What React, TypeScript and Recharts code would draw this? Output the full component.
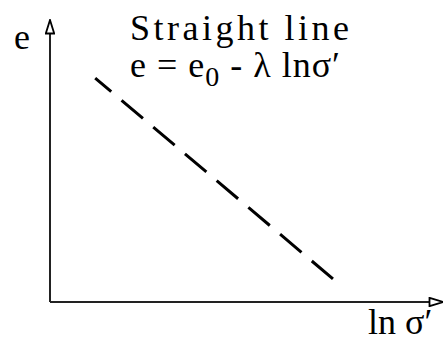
import React from 'react';
import { LineChart, Line, XAxis, YAxis, Customized } from 'recharts';

// ln(sigma') on x, void ratio e on y — both shown as bare arrowed axes
const lnStressDomain = [0, 10];
const voidRatioDomain = [0, 10];
const lnStress = [1.15, 7.2];
const voidRatio = [7.94, 0.82];

const titleText = 'Straight line';
const xAxisName = 'ln σ′';
const yAxisName = 'e';

const serif = '"Liberation Serif", "Times New Roman", serif';
const ink = '#000';

const data = lnStress.map((x, i) => ({ x, e: voidRatio[i] }));

const Labels = () => (
    <g fontFamily={serif} fill={ink} fontSize={36}>
        <text x={14} y={49}>{yAxisName}</text>
        <text x={130} y={40} letterSpacing={3.5}>{titleText}</text>
        <text x={130} y={77} letterSpacing={1}>
            e = e<tspan fontSize={28} dy={9}>0</tspan><tspan dy={-9}> - λ lnσ′</tspan>
        </text>
        <text x={368} y={334}>{xAxisName}</text>
    </g>
);

export default function App() {
    return (
        <div style={{ position: 'absolute', left: 0, top: 0, width: 443, height: 342, background: '#fff' }}>
            <svg width={0} height={0} style={{ position: 'absolute' }}>
                <defs>
                    <marker id="openArrow" viewBox="0 0 16 10" refX={15} refY={5} markerWidth={16} markerHeight={10}
                        markerUnits="userSpaceOnUse" orient="auto-start-reverse">
                        <path d="M1.5,0.8 L15,5 L1.5,9.2 Z" fill="#fff" stroke={ink} strokeWidth={1.8} />
                    </marker>
                </defs>
            </svg>
            <LineChart width={443} height={342} data={data} margin={{ top: 20, right: 0, bottom: 39, left: 49 }}>
                <XAxis type="number" dataKey="x" domain={lnStressDomain} height={1} tick={false} tickLine={false}
                    axisLine={{ stroke: '#222', strokeWidth: 2, markerEnd: 'url(#openArrow)' }} />
                <YAxis type="number" dataKey="e" domain={voidRatioDomain} width={1} tick={false} tickLine={false}
                    axisLine={{ stroke: '#222', strokeWidth: 2, markerStart: 'url(#openArrow)' }} />
                <Line type="linear" dataKey="e" stroke={ink} strokeWidth={3} strokeDasharray="28 13.5" strokeDashoffset={7}
                    dot={false} activeDot={false} isAnimationActive={false} />
                <Customized component={<Labels />} />
            </LineChart>
        </div>
    );
}
